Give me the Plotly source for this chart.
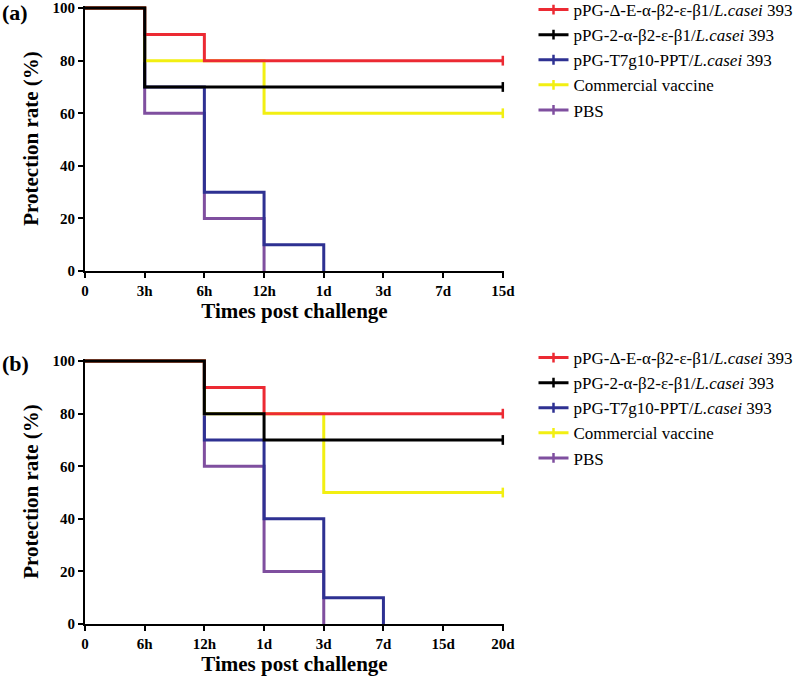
import plotly.graph_objects as go

# ---- data ----
series_names = [
    "pPG-Δ-E-α-β2-ε-β1/<i>L.casei</i> 393",
    "pPG-2-α-β2-ε-β1/<i>L.casei</i> 393",
    "pPG-T7g10-PPT/<i>L.casei</i> 393",
    "Commercial vaccine",
    "PBS",
]
colors = ["#ec2a33", "#000000", "#2e3192", "#f2ef12", "#7f4f9f"]

ticks_a = ["0", "3h", "6h", "12h", "1d", "3d", "7d", "15d"]
ticks_b = ["0", "6h", "12h", "1d", "3d", "7d", "15d", "20d"]
y_ticks = [0, 20, 40, 60, 80, 100]

# step curves: (x index, value) — value holds until next x
a_red_x = [0, 1, 2, 7];        a_red_y = [100, 90, 80, 80]
a_black_x = [0, 1, 7];         a_black_y = [100, 70, 70]
a_blue_x = [0, 1, 2, 3, 4];    a_blue_y = [100, 70, 30, 10, 0]
a_yellow_x = [0, 1, 3, 7];     a_yellow_y = [100, 80, 60, 60]
a_purple_x = [0, 1, 2, 3];     a_purple_y = [100, 60, 20, 0]

b_red_x = [0, 2, 3, 7];        b_red_y = [100, 90, 80, 80]
b_black_x = [0, 2, 3, 7];      b_black_y = [100, 80, 70, 70]
b_blue_x = [0, 2, 3, 4, 5];    b_blue_y = [100, 70, 40, 10, 0]
b_yellow_x = [0, 2, 4, 7];     b_yellow_y = [100, 80, 50, 50]
b_purple_x = [0, 2, 3, 4];     b_purple_y = [100, 60, 20, 0]

panel_a = [(a_red_x, a_red_y), (a_black_x, a_black_y), (a_blue_x, a_blue_y),
           (a_yellow_x, a_yellow_y), (a_purple_x, a_purple_y)]
panel_b = [(b_red_x, b_red_y), (b_black_x, b_black_y), (b_blue_x, b_blue_y),
           (b_yellow_x, b_yellow_y), (b_purple_x, b_purple_y)]

# drawing order (bottom -> top)
draw_order = [4, 2, 3, 0, 1]

FONT = "Liberation Serif, Times New Roman, serif"
fig = go.Figure()

for panel, xa, ya, leg in [(panel_a, "x", "y", "legend"), (panel_b, "x2", "y2", "legend2")]:
    for i in draw_order:
        xs, ys = panel[i]
        fig.add_trace(go.Scatter(
            x=xs, y=ys, mode="lines", line=dict(color=colors[i], width=3, shape="hv"),
            xaxis=xa, yaxis=ya, showlegend=False, hoverinfo="skip"))
    for i in range(5):
        xs, ys = panel[i]
        if ys[-1] > 0:
            ex, ey = [xs[-1]], [ys[-1]]
        else:
            ex, ey = [None], [None]
        fig.add_trace(go.Scatter(
            x=ex, y=ey, mode="lines+markers", name=series_names[i],
            line=dict(color=colors[i], width=3),
            marker=dict(symbol="line-ns", size=7, line=dict(color=colors[i], width=2.5)),
            xaxis=xa, yaxis=ya, legend=leg, cliponaxis=False))

axis_common = dict(showline=True, linewidth=2, linecolor="black", ticks="outside",
                   ticklen=5, tickwidth=2, tickcolor="black", showgrid=False, zeroline=False,
                   automargin=False, ticklabeloverflow="allow",
                   tickfont=dict(family=FONT, size=15, color="black", weight="bold"))

title_font = dict(family=FONT, size=21, color="black", weight="bold")

# plot area in pixels: left 85, right 504, top 6, bottom 624
L, R, T, B = 85, 296, 6, 53
W, H = 800 - L - R, 677 - T - B


def px_x(p):
    return (p - L) / W


def px_y(p):
    return (677 - B - p) / H


fig.update_layout(
    width=800, height=677, margin=dict(l=L, r=R, t=T, b=B, autoexpand=False),
    paper_bgcolor="white", plot_bgcolor="white",
    xaxis=dict(domain=[0, 1], range=[0, 7.02], tickvals=list(range(8)), ticktext=ticks_a,
               anchor="y", title=dict(text="Times post challenge", font=title_font, standoff=1), **axis_common),
    yaxis=dict(domain=[px_y(271), 1], range=[0, 100.8], tickvals=y_ticks,
               anchor="x", title=dict(text="Protection rate (%)", font=title_font, standoff=8), **axis_common),
    xaxis2=dict(domain=[0, 1], range=[0, 7.02], tickvals=list(range(8)), ticktext=ticks_b,
                anchor="y2", title=dict(text="Times post challenge", font=title_font, standoff=3), **axis_common),
    yaxis2=dict(domain=[0, px_y(359)], range=[0, 100.8], tickvals=y_ticks,
                anchor="x2", title=dict(text="Protection rate (%)", font=title_font, standoff=8), **axis_common),
    legend=dict(x=px_x(533.5), y=px_y(-8), xanchor="left", yanchor="top", bgcolor="rgba(0,0,0,0)",
                font=dict(family=FONT, size=17, color="black"), itemwidth=30, tracegroupgap=0),
    legend2=dict(x=px_x(533.5), y=px_y(340), xanchor="left", yanchor="top", bgcolor="rgba(0,0,0,0)",
                 font=dict(family=FONT, size=17, color="black"), itemwidth=30, tracegroupgap=0),
    annotations=[
        dict(text="(a)", x=px_x(0), y=px_y(-2), xref="paper", yref="paper", xanchor="left", yanchor="top",
             showarrow=False, font=dict(family=FONT, size=22, color="black", weight="bold")),
        dict(text="(b)", x=px_x(0), y=px_y(349), xref="paper", yref="paper", xanchor="left", yanchor="top",
             showarrow=False, font=dict(family=FONT, size=22, color="black", weight="bold")),
    ],
)

fig.write_html(
    "out.html",
    config={"displayModeBar": False},
    post_script="document.body.style.margin='0';document.body.style.overflow='hidden';",
)
